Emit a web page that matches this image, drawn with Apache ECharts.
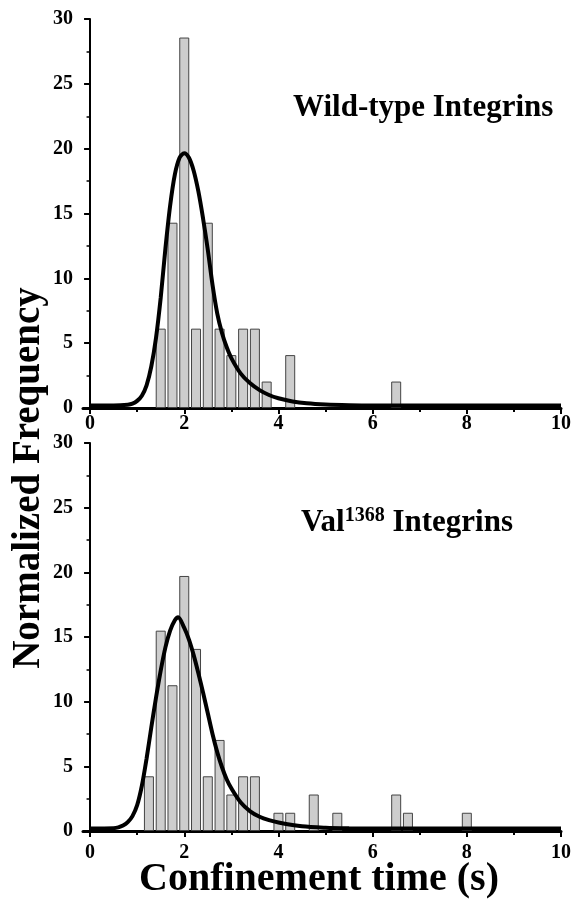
<!DOCTYPE html>
<html>
<head>
<meta charset="utf-8">
<script src="https://cdn.jsdelivr.net/npm/echarts@6/dist/echarts.min.js"></script>
<style>
  html, body { margin: 0; padding: 0; background: #fff; }
</style>
</head>
<body>
<div id="chart" style="width:574px;height:901px;"></div>
<script>
// histogram bins (bin centres, s) and normalized frequencies (%)
const binsTop = [1.5, 1.75, 2.0, 2.25, 2.5, 2.75, 3.0, 3.25, 3.5, 3.75, 4.25, 6.5];
const freqTop = [6.12, 14.29, 28.57, 6.12, 14.29, 6.12, 4.08, 6.12, 6.12, 2.04, 4.08, 2.04];
const binsBottom = [1.25, 1.5, 1.75, 2.0, 2.25, 2.5, 2.75, 3.0, 3.25, 3.5, 4.0, 4.25, 4.75, 5.25, 6.5, 6.75, 8.0];
const freqBottom = [4.23, 15.49, 11.27, 19.72, 14.08, 4.23, 7.04, 2.82, 4.23, 4.23, 1.41, 1.41, 2.82, 1.41, 2.82, 1.41, 1.41];

// fitted curves
const fitXTop = [0, 0.5, 0.8, 0.9, 1.0, 1.1, 1.2, 1.3, 1.4, 1.5, 1.6, 1.7, 1.8, 1.9, 2.0, 2.1, 2.2, 2.3, 2.4, 2.5, 2.6, 2.7, 2.8, 2.9, 3.0, 3.2, 3.4, 3.6, 3.8, 4.0, 4.3, 4.6, 5.0, 5.5, 6.0, 8.0, 10.0];
const fitYTop = [0.2, 0.2, 0.25, 0.33, 0.55, 0.95, 1.75, 3.2, 5.4, 8.5, 12.3, 15.6, 18.0, 19.3, 19.65, 19.3, 18.3, 16.7, 14.6, 12.2, 9.5, 7.3, 5.8, 4.7, 3.85, 2.65, 1.9, 1.38, 1.0, 0.75, 0.5, 0.36, 0.27, 0.22, 0.2, 0.2, 0.2];
const fitXBottom = [0, 0.5, 0.6, 0.7, 0.8, 0.9, 1.0, 1.1, 1.2, 1.3, 1.4, 1.5, 1.6, 1.7, 1.8, 1.87, 2.0, 2.1, 2.2, 2.3, 2.4, 2.5, 2.6, 2.7, 2.8, 2.9, 3.0, 3.2, 3.4, 3.6, 3.8, 4.0, 4.5, 5.0, 5.5, 6.0, 8.0, 10.0];
const fitYBottom = [0.2, 0.22, 0.28, 0.42, 0.68, 1.15, 2.0, 3.5, 5.6, 8.0, 10.3, 12.4, 14.2, 15.5, 16.3, 16.53, 15.7, 14.8, 13.6, 12.2, 10.7, 9.1, 7.5, 6.1, 4.95, 4.0, 3.3, 2.2, 1.52, 1.1, 0.84, 0.66, 0.36, 0.25, 0.21, 0.2, 0.2, 0.2];

const xLabelTicks = [0, 2, 4, 6, 8, 10];
const xMinorTicks = [1, 3, 5, 7, 9];

const font = 'Liberation Serif';
const black = '#000';

function pairs(xs, ys) {
  return xs.map((x, i) => [x, ys[i]]);
}

const grids = [
  { left: 83, right: 11, top: 19, height: 389 },
  { left: 83, right: 11, top: 443, height: 388 }
];

const xAxes = [];
const yAxes = [];
const series = [];
const panels = [
  { bins: binsTop, freq: freqTop, fx: fitXTop, fy: fitYTop, labelMargin: 6 },
  { bins: binsBottom, freq: freqBottom, fx: fitXBottom, fy: fitYBottom, labelMargin: 12 }
];

panels.forEach((p, i) => {
  xAxes.push({
    type: 'value', gridIndex: i, position: 'bottom', min: -0.15, max: 10,
    splitLine: { show: false },
    axisLine: { show: true, onZero: false, lineStyle: { color: black, width: 3 } },
    axisTick: { show: true, customValues: xLabelTicks, length: 6, lineStyle: { color: black, width: 2 } },
    axisLabel: {
      customValues: xLabelTicks, margin: p.labelMargin,
      color: black, fontFamily: font, fontWeight: 'bold', fontSize: 20
    }
  });
  xAxes.push({
    type: 'value', gridIndex: i, position: 'bottom', min: -0.15, max: 10,
    splitLine: { show: false },
    axisLine: { show: false },
    axisTick: { show: true, customValues: xMinorTicks, length: 4, lineStyle: { color: black, width: 2 } },
    axisLabel: { show: false }
  });
  yAxes.push({
    type: 'value', gridIndex: i, min: 0, max: 30, interval: 5,
    splitLine: { show: false },
    axisLine: { show: true, lineStyle: { color: black, width: 2 } },
    axisTick: { show: true, length: 6, lineStyle: { color: black, width: 2 } },
    minorTick: { show: true, splitNumber: 2, length: 3.5, lineStyle: { color: black, width: 1.5 } },
    axisLabel: { margin: 10, color: black, fontFamily: font, fontWeight: 'bold', fontSize: 20 }
  });
  series.push({
    type: 'bar', xAxisIndex: i * 2, yAxisIndex: i,
    data: pairs(p.bins, p.freq),
    barWidth: 10,
    itemStyle: { color: '#cdcdcd', borderColor: '#444', borderWidth: 1 },
    z: 2
  });
  series.push({
    type: 'line', xAxisIndex: i * 2, yAxisIndex: i,
    data: pairs(p.fx, p.fy),
    smooth: 0.3, symbol: 'none',
    lineStyle: { color: black, width: 4 },
    z: 5
  });
});

const chart = echarts.init(document.getElementById('chart'));
chart.setOption({
  animation: false,
  backgroundColor: '#fff',
  grid: grids,
  xAxis: xAxes,
  yAxis: yAxes,
  series: series,
  graphic: [
    {
      type: 'text', left: 293, top: 92,
      style: { text: 'Wild-type Integrins', fill: black, font: 'bold 31px "Liberation Serif"' }
    },
    {
      type: 'text', left: 301, top: 506,
      style: {
        text: '{a|Val}{b|1368}{a| Integrins}',
        rich: {
          a: { fontFamily: font, fontWeight: 'bold', fontSize: 31, fill: black, lineHeight: 34 },
          b: { fontFamily: font, fontWeight: 'bold', fontSize: 20, fill: black, verticalAlign: 'top', lineHeight: 34, padding: [0, 0, 12, 0] }
        }
      }
    },
    {
      type: 'text', x: 29, y: 478, rotation: Math.PI / 2,
      style: {
        text: 'Normalized Frequency', fill: black, align: 'center', verticalAlign: 'middle',
        font: 'bold 39px "Liberation Serif"'
      }
    },
    {
      type: 'text', x: 319, y: 880,
      style: {
        text: 'Confinement time (s)', fill: black, align: 'center', verticalAlign: 'middle',
        font: 'bold 40px "Liberation Serif"'
      }
    }
  ]
});
</script>
</body>
</html>
